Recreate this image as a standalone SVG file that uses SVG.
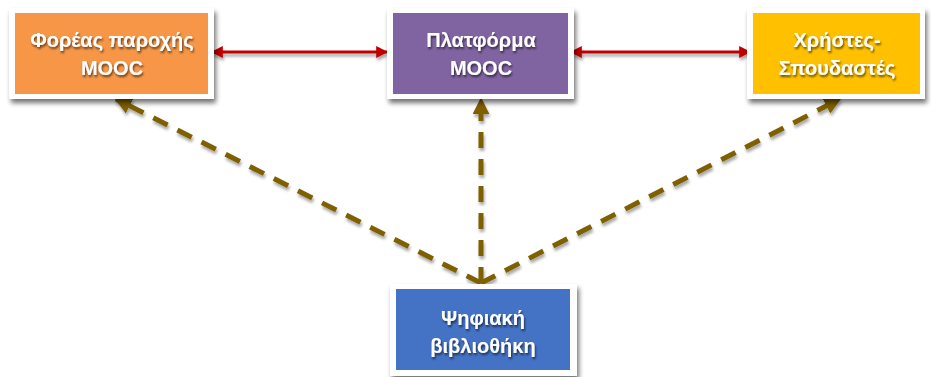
<svg xmlns="http://www.w3.org/2000/svg" width="931" height="377" viewBox="0 0 931 377">
<defs>
<filter id="sh" x="-10%" y="-10%" width="125%" height="135%">
<feGaussianBlur in="SourceAlpha" stdDeviation="2.5"/>
<feOffset dx="2" dy="4" result="b"/>
<feComponentTransfer><feFuncA type="linear" slope="0.55"/></feComponentTransfer>
<feMerge><feMergeNode/><feMergeNode in="SourceGraphic"/></feMerge>
</filter>
<filter id="tsh" x="-10%" y="-30%" width="120%" height="160%">
<feGaussianBlur in="SourceAlpha" stdDeviation="1"/>
<feOffset dx="1" dy="1.5"/>
<feComponentTransfer><feFuncA type="linear" slope="0.6"/></feComponentTransfer>
<feMerge><feMergeNode/><feMergeNode in="SourceGraphic"/></feMerge>
</filter>
<filter id="lsh" filterUnits="userSpaceOnUse" x="0" y="0" width="931" height="377">
<feGaussianBlur in="SourceAlpha" stdDeviation="1.5"/>
<feOffset dx="1" dy="3"/>
<feComponentTransfer><feFuncA type="linear" slope="0.35"/></feComponentTransfer>
<feMerge><feMergeNode/><feMergeNode in="SourceGraphic"/></feMerge>
</filter>
<marker id="ra" viewBox="0 0 10 10" refX="9" refY="5" markerWidth="4" markerHeight="4" orient="auto-start-reverse" markerUnits="strokeWidth">
<path d="M0,0 L10,5 L0,10 Z" fill="#C00000"/>
</marker>
<marker id="da" viewBox="0 0 10 10" refX="9" refY="5" markerWidth="3.4" markerHeight="3.4" orient="auto" markerUnits="strokeWidth">
<path d="M0,0 L10,5 L0,10 Z" fill="#7F6000"/>
</marker>
</defs>
<style>
.frame{fill:#fff;filter:url(#sh)}
.t{font-family:"Liberation Sans",Arial,sans-serif;font-weight:bold;font-size:20px;fill:#fff;text-anchor:middle;filter:url(#tsh)}
.red{stroke:#C00000;stroke-width:3;fill:none;marker-start:url(#ra);marker-end:url(#ra)}
.dash{stroke:#7F6000;stroke-width:5;fill:none;stroke-dasharray:16 11;marker-end:url(#da)}
</style>
<g id="connectors" filter="url(#lsh)">
<line class="red" x1="212" y1="52" x2="387" y2="52"/>
<line class="red" x1="571" y1="52" x2="750" y2="52"/>
<line class="dash" x1="481" y1="283" x2="116" y2="99"/>
<line class="dash" x1="481" y1="283" x2="481" y2="99"/>
<line class="dash" x1="481" y1="283" x2="840" y2="99"/>
</g>
<g id="node-foreas">
<rect class="frame" x="9" y="8" width="205" height="91"/>
<rect x="15" y="13" width="193" height="81" fill="#F79646"/>
<text class="t" x="112" y="47">Φορέας παροχής</text>
<text class="t" x="112" y="75">MOOC</text>
</g>
<g id="node-platforma">
<rect class="frame" x="387" y="8" width="187" height="91"/>
<rect x="393" y="13" width="175" height="81" fill="#8064A2"/>
<text class="t" x="481" y="47">Πλατφόρμα</text>
<text class="t" x="481" y="75">MOOC</text>
</g>
<g id="node-xristes">
<rect class="frame" x="747" y="8" width="178" height="91"/>
<rect x="753" y="13" width="167" height="81" fill="#FFC000"/>
<text class="t" x="837" y="47">Χρήστες-</text>
<text class="t" x="837" y="75">Σπουδαστές</text>
</g>
<g id="node-vivliothiki">
<rect class="frame" x="390" y="284" width="187" height="92"/>
<rect x="396" y="289" width="174" height="81" fill="#4472C4"/>
<text class="t" x="483" y="325">Ψηφιακή</text>
<text class="t" x="483" y="353">βιβλιοθήκη</text>
</g>
</svg>
